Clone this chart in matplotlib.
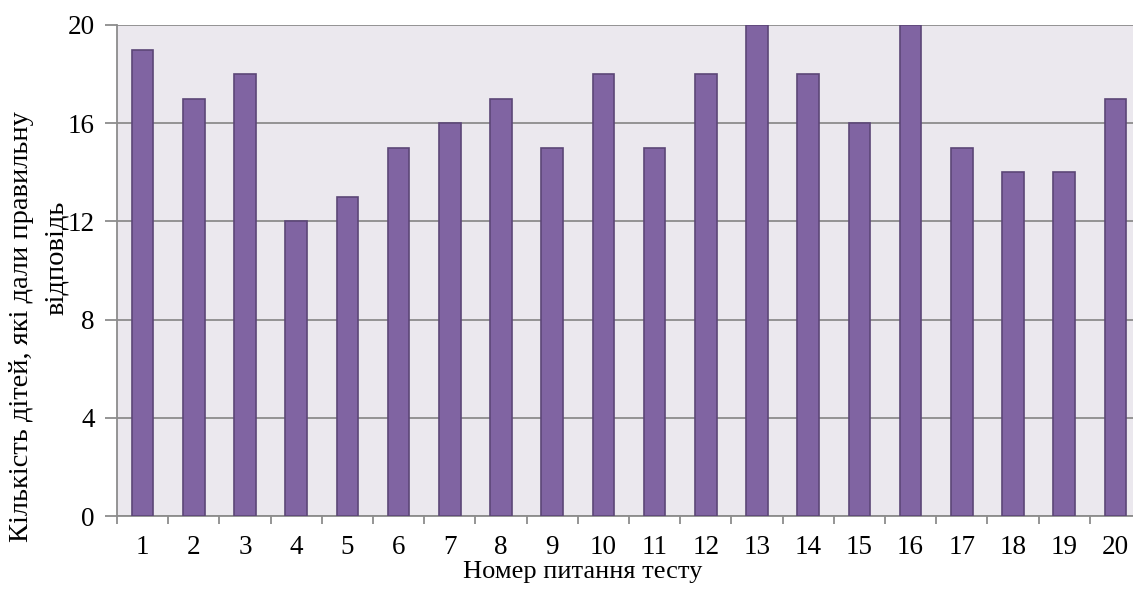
import numpy as np
import matplotlib.pyplot as plt

questions = [str(i) for i in range(1, 21)]
correct = [19, 17, 18, 12, 13, 15, 16, 17, 15, 18, 15, 18, 20, 18, 16, 20, 15, 14, 14, 17]
y_ticks = [0, 4, 8, 12, 16, 20]

plt.rcParams['font.family'] = ['Liberation Serif', 'DejaVu Serif']

W, H = 1133, 589
fig = plt.figure(figsize=(W / 100, H / 100), dpi=100)
# plot area runs a little past the right edge, like the original
ax = fig.add_axes([117 / W, 1 - 516 / H, (1141 - 117) / W, (516 - 25) / H])
ax.set_facecolor('#ebe8ee')

x = np.arange(len(questions))
ax.bar(x, correct, width=0.42, color='#8064a2', edgecolor='#5c4677', linewidth=1.2, zorder=3)

ax.set_xlim(-0.5, len(questions) - 0.5)
ax.set_ylim(0, 20)
ax.set_yticks(y_ticks)
ax.set_yticklabels([str(v) for v in y_ticks], fontsize=19.5)
ax.yaxis.grid(True, color='#8c8c8c', linewidth=1.3, zorder=1)

# category ticks on boundaries, labels at centers
ax.set_xticks(np.arange(len(questions) + 1) - 0.5)
ax.set_xticklabels([])
ax.set_xticks(x, minor=True)
ax.set_xticklabels(questions, minor=True, fontsize=19.5)
ax.tick_params(axis='x', which='major', direction='out', length=6, width=1.3, color='#8c8c8c')
ax.tick_params(axis='x', which='minor', length=0, pad=14)
ax.tick_params(axis='y', direction='out', length=9, width=1.3, color='#8c8c8c', pad=7)

for side in ['top', 'right']:
    ax.spines[side].set_visible(False)
ax.spines['left'].set_color('#8c8c8c')
ax.spines['bottom'].set_color('#8c8c8c')
ax.spines['left'].set_linewidth(1.3)
ax.spines['bottom'].set_linewidth(1.3)

fig.text(583 / W, 1 - 572 / H, 'Номер питання тесту', fontsize=19, ha='center', va='center')
fig.text(22 / W, 1 - 327 / H, 'Кількість дітей, які дали правильну', fontsize=20.5,
         rotation=90, ha='center', va='center')
fig.text(56 / W, 1 - 258 / H, 'відповідь', fontsize=20.5, rotation=90, ha='center', va='center')

fig.savefig('out.png', dpi=100)
